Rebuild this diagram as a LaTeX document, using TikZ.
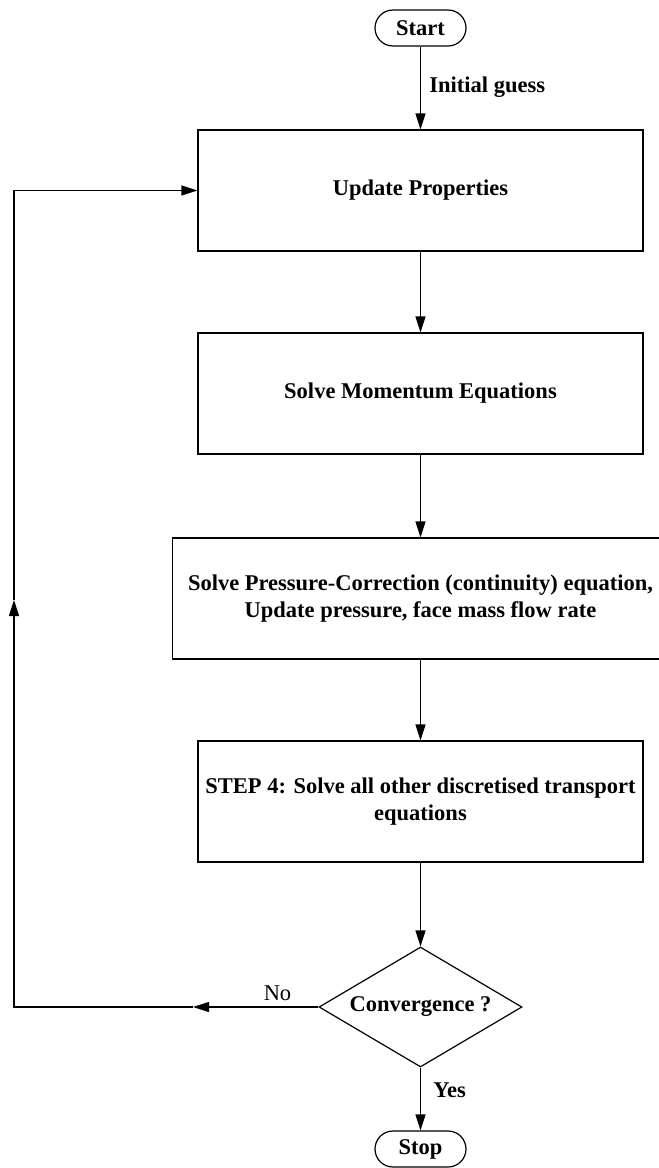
\documentclass[tikz,border=0pt]{standalone}
\usepackage{fontspec}
\setmainfont{Liberation Serif}
\usetikzlibrary{arrows.meta}
\usetikzlibrary{shapes.geometric}
\usetikzlibrary{positioning}

\tikzset{
  txt/.style={font=\fontsize{11.25}{13.5}\selectfont\bfseries},
  stepbox/.style={draw, txt, line width=0.6pt, minimum width=222.5pt, minimum height=60.5pt, align=center, inner sep=0pt},
  terminal/.style={draw, txt, line width=0.6pt, rounded corners=9pt, minimum width=45.5pt, minimum height=18pt, inner sep=0pt},
  decision/.style={draw, txt, diamond, aspect=1.7, line width=0.6pt, minimum width=101.5pt, minimum height=60pt, inner sep=1pt},
  arr/.style={line width=0.6pt, -{Triangle[length=8pt, width=5pt]}},
  ln/.style={line width=0.6pt}
}

\begin{document}
\begin{tikzpicture}[x=0.5pt, y=-0.5pt]
			\useasboundingbox (0, 0) rectangle (659, 1168);
			\node[terminal] (start) at (420.5, 28) {Start};
			\node[stepbox] (props) at (420.5, 190.5) {Update Properties};
			\node[stepbox] (momentum) at (420.5, 393.5) {Solve Momentum Equations};
			\node[stepbox, minimum width=248pt] (pressure) at (420.5, 598.5) {Solve Pressure-Correction (continuity) equation,\\Update pressure, face mass flow rate};
			\node[stepbox] (transport) at (420.5, 801.5) {STEP 4: Solve all other discretised transport\\equations};
			\node[decision] (conv) at (420.5, 1007) {Convergence ?};
			\node[terminal] (stop) at (420.5, 1149) {Stop};
			\node[txt, anchor=west, inner sep=0pt] (guess) at (429, 87) {Initial guess};
			\node[txt, anchor=west, inner sep=0pt] (yes) at (433, 1090) {Yes};
			\node[font=\fontsize{11.25}{13.5}\selectfont, inner sep=0pt] (no) at (277.5, 993) {No};
			\coordinate (noTip) at (193, 1007);
			\coordinate (noEnd) at (14, 1007);
			\coordinate (upTip) at (14, 600);
			\draw[arr] (start) -- (props);
			\draw[arr] (props) -- (momentum);
			\draw[arr] (momentum) -- (pressure);
			\draw[arr] (pressure) -- (transport);
			\draw[arr] (transport) -- (conv);
			\draw[arr] (conv) -- (stop);
			\draw[arr] (conv.west) -- (noTip);
			\draw[arr] (noTip) -- (noEnd) -- (upTip);
			\draw[arr] (upTip) |- (props.west);
		\end{tikzpicture}
\end{document}
